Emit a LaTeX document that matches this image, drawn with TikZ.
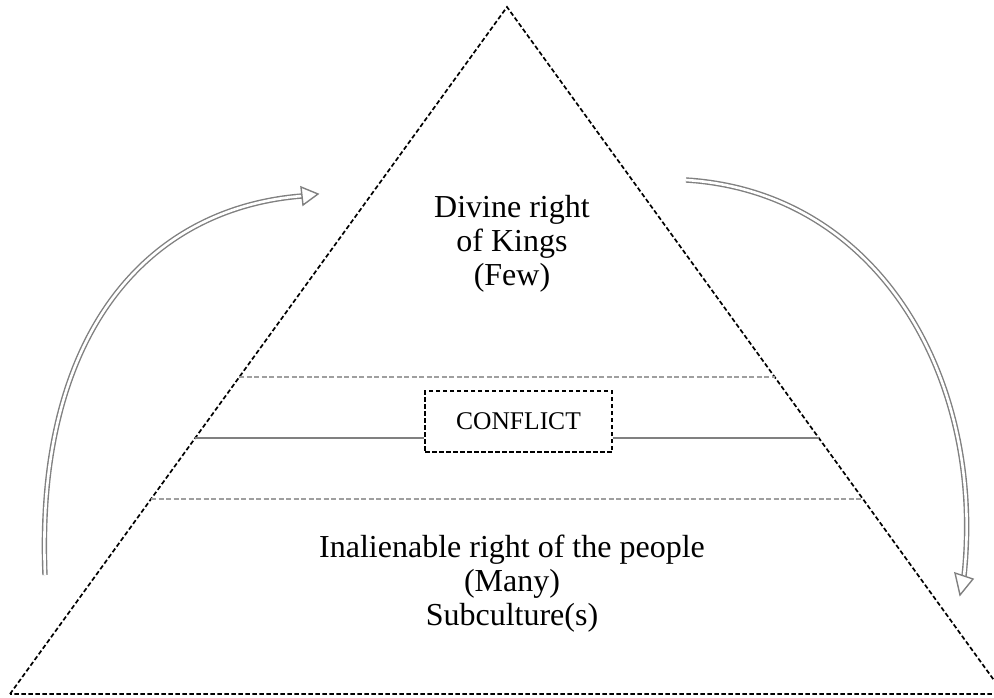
\documentclass[tikz,border=0pt]{standalone}
\usepackage{fontspec}
\setmainfont{Liberation Serif}
\usetikzlibrary{calc}
\begin{document}
\begin{tikzpicture}[x=1pt,y=-1pt,
  tri/.style={draw=black,line width=1.7pt,dash pattern=on 4.5pt off 2.5pt},
  band/.style={draw=gray!75,line width=1.6pt,dash pattern=on 5pt off 2.5pt},
  link/.style={draw=gray,line width=1.7pt},
  flow/.style={draw=gray,line width=1.4pt,double=white,double distance=2.6pt},
  head/.style={draw=gray,line width=1.4pt,fill=white,line join=miter},
  lbl/.style={font=\fontsize{32}{34}\selectfont,align=center,inner sep=0pt},
  cbox/.style={draw=black,line width=1.6pt,dash pattern=on 4.5pt off 2.5pt,font=\fontsize{25.5}{28}\selectfont,minimum width=187pt,minimum height=61pt,inner sep=0pt}]
\useasboundingbox (0,0) rectangle (994,698);
\clip (0,0) rectangle (994,698);
\fill[white] (0,0) rectangle (994,698);
% triangle corners
\coordinate (apex) at (507,7);
\coordinate (bl) at (10,694);
\coordinate (br) at (1004,694);
\draw[tri] (bl) -- (apex) -- (br) -- cycle;
% band lines
\coordinate (u1) at ($(apex)!370/687!(bl)$);
\coordinate (u2) at ($(apex)!370/687!(br)$);
\coordinate (m1) at ($(apex)!431/687!(bl)$);
\coordinate (m2) at ($(apex)!431/687!(br)$);
\coordinate (d1) at ($(apex)!492/687!(bl)$);
\coordinate (d2) at ($(apex)!492/687!(br)$);
\draw[band] (u1) -- (u2);
\draw[band] (d1) -- (d2);
\node[cbox] (conf) at (518.5,421.5) {CONFLICT};
\draw[link] (m1) -- (m1 -| conf.west);
\draw[link] (m2 -| conf.east) -- (m2);
% texts
\node[lbl] (kings) at (512,244) {Divine right\\of Kings\\(Few)};
\node[lbl] (people) at (512,584) {Inalienable right of the people\\(Many)\\Subculture(s)};
% left arrow
\coordinate (lt) at (45,575);
\coordinate (lb) at (302,196);
\draw[flow] (lt) .. controls (35,330) and (150,208) .. (lb);
\draw[head] (301,187) -- (318,194) -- (303,205) -- cycle;
% right arrow
\coordinate (rt) at (686,180);
\coordinate (rb) at (964,576);
\draw[flow] (rt) .. controls (880,192) and (985,380) .. (rb);
\draw[head] (955,573) -- (960,595) -- (973,579) -- cycle;
\end{tikzpicture}
\end{document}
